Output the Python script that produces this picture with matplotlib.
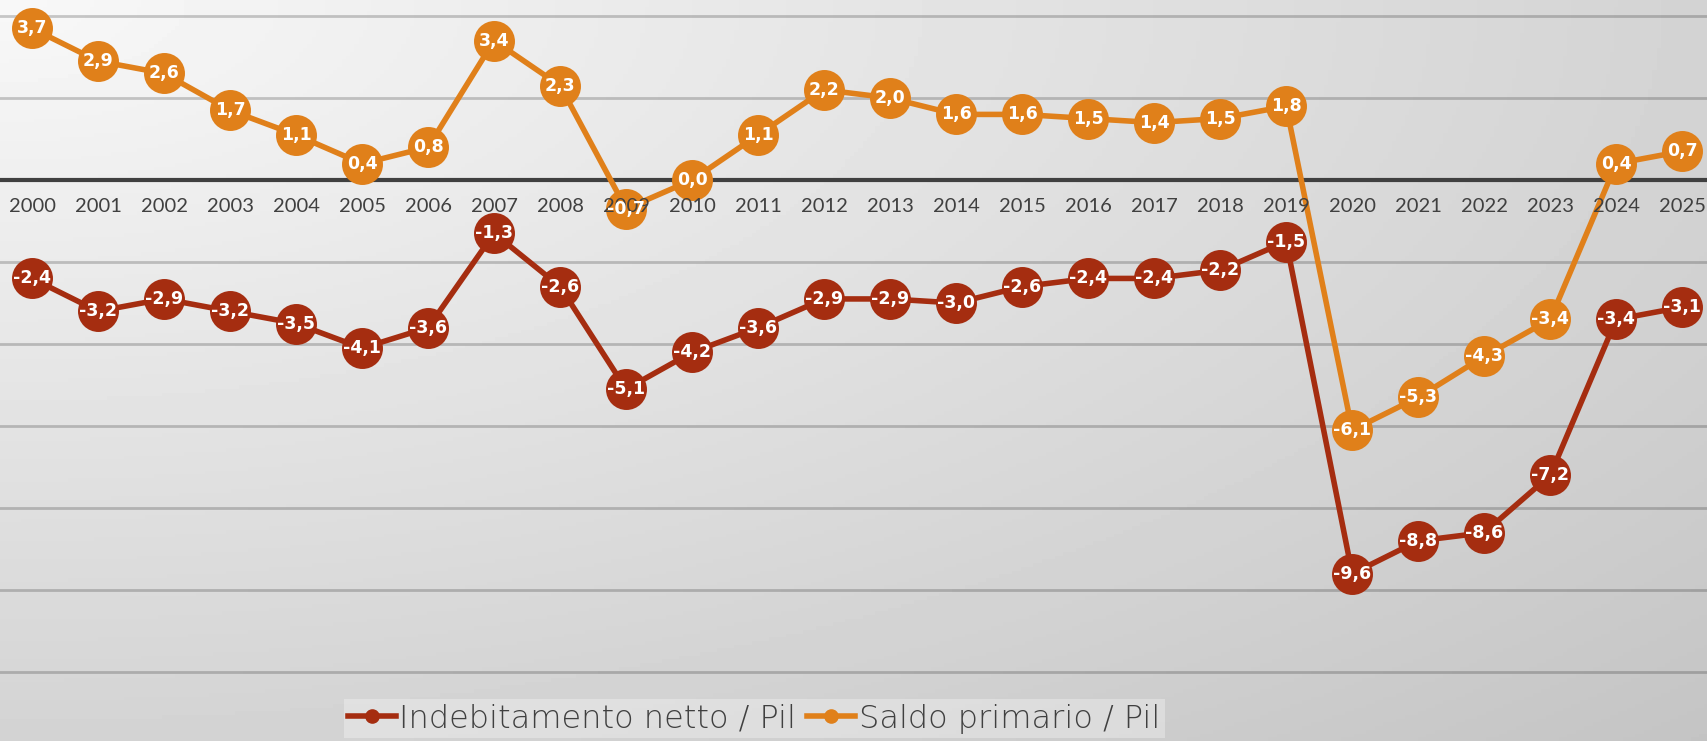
import numpy as np
import matplotlib
matplotlib.use("Agg")
import matplotlib.pyplot as plt
from matplotlib.lines import Line2D

plt.rcParams['font.family'] = ['Lato', 'DejaVu Sans']

years = list(range(2000, 2026))
indebitamento = [-2.4, -3.2, -2.9, -3.2, -3.5, -4.1, -3.6, -1.3, -2.6, -5.1,
                 -4.2, -3.6, -2.9, -2.9, -3.0, -2.6, -2.4, -2.4, -2.2, -1.5,
                 -9.6, -8.8, -8.6, -7.2, -3.4, -3.1]
saldo_primario = [3.7, 2.9, 2.6, 1.7, 1.1, 0.4, 0.8, 3.4, 2.3, -0.7,
                  0.0, 1.1, 2.2, 2.0, 1.6, 1.6, 1.5, 1.4, 1.5, 1.8,
                  -6.1, -5.3, -4.3, -3.4, 0.4, 0.7]
series_names = ["Indebitamento netto / Pil", "Saldo primario / Pil"]

red = "#A52D10"
orange = "#E0801A"
text_gray = "#404040"

W, H = 1708, 741
fig = plt.figure(figsize=(W / 100, H / 100), dpi=100)

# background gradient, light at top-left, darker towards bottom-right
bg = fig.add_axes([0, 0, 1, 1], zorder=-1)
u, v = np.meshgrid(np.linspace(0, 1, 400), np.linspace(0, 1, 200))
d = np.sqrt(u ** 2 + v ** 2) / np.sqrt(2)
shade = (248 - 52 * d) / 255
bg.imshow(shade, cmap="gray", vmin=0, vmax=1, aspect="auto", extent=[0, 1, 1, 0])
bg.axis("off")

ax = fig.add_axes([0, 0, 1, 1])
ax.patch.set_alpha(0)
ax.set_xlim(1999.515, 2025.39)
ax.set_ylim(-13.68, 4.39)

for g in range(-12, 6, 2):
    if g == 0:
        continue
    ax.axhline(g, color="black", alpha=0.2, lw=2, zorder=1)
ax.axhline(0, color=text_gray, lw=3, zorder=1.5)

for vals, col in [(indebitamento, red), (saldo_primario, orange)]:
    ax.plot(years, vals, color=col, lw=4, marker="o", markersize=29.5,
            markeredgewidth=0, zorder=2, solid_joinstyle="round")
    for x, y in zip(years, vals):
        ax.text(x, y, f"{y:.1f}".replace(".", ","), ha="center", va="center",
                color="white", fontsize=12.5, fontweight="bold",
                family="DejaVu Sans", zorder=3)

for spine in ax.spines.values():
    spine.set_visible(False)
ax.spines["bottom"].set_position(("data", 0))
ax.set_axisbelow(False)
ax.set_xticks(years)
ax.set_xticklabels([str(y) for y in years])
ax.tick_params(axis="x", length=0, pad=13, labelsize=14.5, labelcolor=text_gray)
ax.set_yticks([])

handles = [Line2D([0], [0], color=c, lw=4, marker="o", markersize=9.5) for c in (red, orange)]
leg = ax.legend(handles, series_names, loc="lower center", bbox_to_anchor=(0.4415, -0.018),
                ncol=2, frameon=True, fancybox=False, handlelength=1.5,
                handletextpad=0.1, columnspacing=0.35, borderpad=0.15, labelcolor=text_gray,
                prop={"family": "DejaVu Sans", "size": 23, "weight": "light"})
leg.get_frame().set_facecolor("white")
leg.get_frame().set_alpha(0.3)
leg.get_frame().set_edgecolor("none")

fig.savefig("out.png", dpi=100)
